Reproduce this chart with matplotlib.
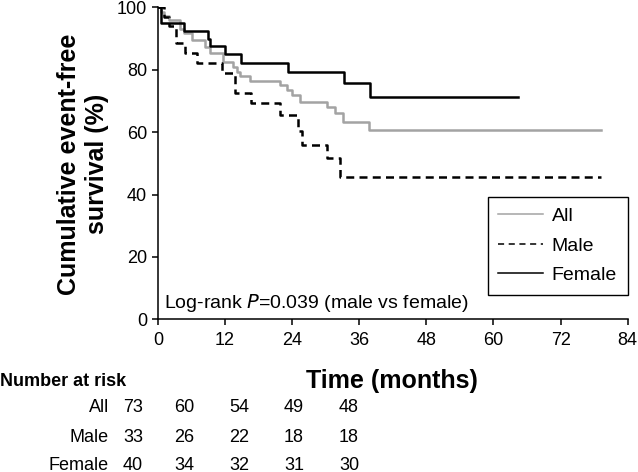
import matplotlib
matplotlib.use("Agg")
import matplotlib.pyplot as plt
from matplotlib.lines import Line2D

plt.rcParams['font.family'] = ['Liberation Sans', 'DejaVu Sans']

# step times (months) and survival (%)
all_t = [0, 0.5, 1.0, 2.0, 3.9, 4.7, 6.0, 8.4, 9.3, 11.7, 13.5, 14.1, 14.7, 16.4,
         21.9, 23.0, 24.0, 25.4, 30.2, 31.6, 33.1, 37.7, 79.2]
all_s = [100, 98.6, 97.3, 95.9, 93.2, 91.8, 89.5, 87.4, 85.3, 82.5, 80.8, 79.4, 78.0, 76.5,
         75.1, 73.5, 72.0, 69.7, 68.0, 66.0, 63.3, 60.7, 60.7]

male_t = [0, 1.0, 2.0, 3.3, 4.8, 6.9, 11.5, 13.8, 16.6, 21.9, 25.1, 25.7, 30.2, 32.6, 79.2]
male_s = [100, 97.0, 93.9, 88.4, 85.3, 82.0, 78.8, 72.4, 69.2, 65.6, 60.5, 55.9, 51.6, 45.7, 45.7]

female_t = [0, 0.5, 4.7, 8.9, 9.3, 12.0, 14.9, 23.2, 33.2, 37.9, 64.3]
female_s = [100, 95.0, 92.5, 90.0, 87.5, 85.0, 82.3, 79.4, 75.6, 71.3, 71.3]

risk_groups = ["All", "Male", "Female"]
risk_counts = [[73, 60, 54, 49, 48],
               [33, 26, 22, 18, 18],
               [40, 34, 32, 31, 30]]

W, H = 638, 472
fig = plt.figure(figsize=(W / 100, H / 100), dpi=100)
ax = fig.add_axes([158 / W, 1 - 319.3 / H, 469.7 / W, 312 / H])

lw = 1.8
ax.step(all_t, all_s, where="post", color="#a3a3a3", lw=lw, label="All")
ax.step(male_t, male_s, where="post", color="black", lw=lw, dashes=(3.2, 2.1), label="Male")
ax.step(female_t, female_s, where="post", color="black", lw=lw, label="Female")

ax.set_xlim(0, 84)
ax.set_ylim(0, 100)
ax.set_xticks(range(0, 85, 12))
ax.set_yticks(range(0, 101, 20))
for s in ["top", "right"]:
    ax.spines[s].set_visible(False)
for s in ["left", "bottom"]:
    ax.spines[s].set_linewidth(1.1)
ax.tick_params(direction="out", length=4, width=1.1, labelsize=13, pad=5)
ax.tick_params(axis="y", pad=4)

handles = [Line2D([], [], color="#a3a3a3", lw=1.1),
           Line2D([], [], color="black", lw=1.1, dashes=(4, 3)),
           Line2D([], [], color="black", lw=1.1)]
leg = ax.legend(handles, ["All", "Male", "Female"], loc="lower right",
                bbox_to_anchor=(1.0, 0.078), fontsize=14, fancybox=False,
                edgecolor="black", framealpha=1, handlelength=2.3,
                handletextpad=0.45, labelspacing=0.62, borderpad=0.55,
                borderaxespad=0)
leg.get_frame().set_linewidth(1.0)

ax.text(1.0, 5.2, "Log-rank $\\it{P}$=0.039 (male vs female)", fontsize=14,
        va="center", ha="left")

fig.text(83 / W, 1 - 164 / H, "Cumulative event-free\nsurvival (%)", rotation=90,
         fontsize=18, fontweight="bold", ha="center", va="center",
         multialignment="center", linespacing=1.2)
fig.text(392 / W, 1 - 381 / H, "Time (months)", fontsize=18, fontweight="bold",
         ha="center", va="center")
fig.text(0, 1 - 381 / H, "Number at risk", fontsize=13, fontweight="bold",
         ha="left", va="center")

row_y = [408, 438, 465]
col_x = [133, 184, 239, 294, 349]
for g, counts, y in zip(risk_groups, risk_counts, row_y):
    fig.text(109 / W, 1 - y / H, g, fontsize=13, ha="right", va="center")
    for x, n in zip(col_x, counts):
        fig.text(x / W, 1 - y / H, str(n), fontsize=13, ha="center", va="center")

fig.savefig("out.png", dpi=100)
